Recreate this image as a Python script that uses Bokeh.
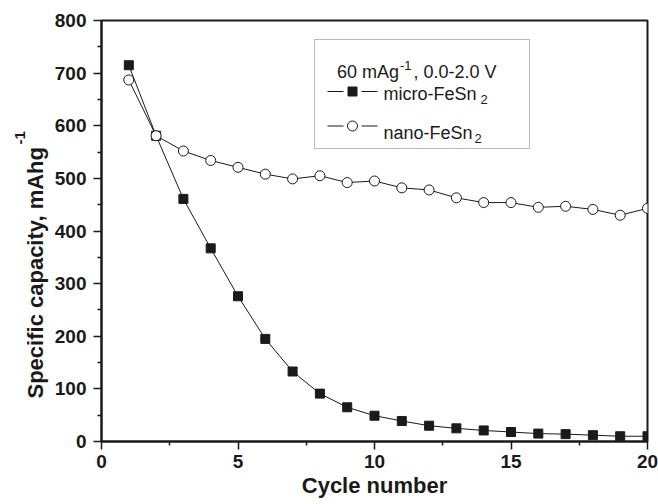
from bokeh.plotting import figure
from bokeh.models import Range1d, FixedTicker, Label, BoxAnnotation, Title
from bokeh.embed import file_html
from bokeh.resources import INLINE

# ---------------- data ----------------
cycles = list(range(1, 21))
micro = [715, 581, 461, 367, 276, 195, 133, 91, 65, 49, 39, 30, 25, 21, 18, 15, 14, 12, 10, 10]
nano = [687, 581, 552, 534, 521, 508, 499, 505, 492, 495, 482, 478, 463, 454, 454, 445, 447, 441, 430, 443]
x_ticks = [0, 5, 10, 15, 20]
y_ticks = [0, 100, 200, 300, 400, 500, 600, 700, 800]
x_label = "Cycle number"
y_label = "Specific capacity, mAhg"
y_label_sup = "-1"
legend_title = ["60 mAg", "-1", ", 0.0-2.0 V"]
series_names = ["micro-FeSn", "nano-FeSn"]
series_sub = "2"

# ---------------- layout ----------------
W, H = 658, 504
FL, FR, FT, FB = 101, 11, 20, 63
FW, FH = W - FL - FR, H - FT - FB
X0, X1, Y0, Y1 = 0, 20, 0, 800
INK = "#1a1a1a"
FONT = "Liberation Sans"


def sx2d(sx):
    return X0 + (sx - FL) * (X1 - X0) / FW


def sy2d(sy):
    return Y0 + (FT + FH - sy) * (Y1 - Y0) / FH


def mids(t):
    return [(a + b) / 2 for a, b in zip(t[:-1], t[1:])]


p = figure(width=W, height=H, x_range=Range1d(X0, X1), y_range=Range1d(Y0, Y1),
           output_backend="svg", toolbar_location=None,
           min_border_left=FL, min_border_right=FR, min_border_top=FT, min_border_bottom=FB,
           background_fill_color="white", border_fill_color="white")
p.grid.visible = False
p.outline_line_color = INK
p.outline_line_width = 2

p.xaxis.ticker = FixedTicker(ticks=x_ticks, minor_ticks=mids(x_ticks))
p.yaxis.ticker = FixedTicker(ticks=y_ticks, minor_ticks=mids(y_ticks))

for ax in (p.xaxis[0], p.yaxis[0]):
    ax.axis_line_width = 2
    ax.axis_line_color = INK
    ax.major_tick_line_color = INK
    ax.minor_tick_line_color = INK
    ax.major_tick_line_width = 1.5
    ax.minor_tick_line_width = 1.5
    ax.major_tick_out = 8
    ax.major_tick_in = 0
    ax.minor_tick_out = 4
    ax.minor_tick_in = 0
    ax.major_label_text_font = FONT
    ax.major_label_text_font_style = "bold"
    ax.major_label_text_font_size = "19px"
    ax.major_label_text_color = INK
p.xaxis[0].major_label_standoff = 5
p.yaxis[0].major_label_standoff = 7

# ---------------- series ----------------
p.line(cycles, micro, line_color=INK, line_width=1)
p.scatter(cycles, micro, marker="square", size=9, fill_color=INK, line_color=INK)
p.line(cycles, nano, line_color=INK, line_width=1)
p.scatter(cycles, nano, marker="circle", size=10, fill_color="white", line_color=INK, line_width=1)

# ---------------- legend ----------------
p.add_layout(BoxAnnotation(left=sx2d(314), right=sx2d(529), top=sy2d(39), bottom=sy2d(148),
                           fill_alpha=0, line_color=INK, line_width=1))


def lab(text, sx, sy, size, bold=False, align="left"):
    p.add_layout(Label(x=sx2d(sx), y=sy2d(sy), text=text, text_font=FONT,
                       text_font_size=size, text_font_style="bold" if bold else "normal",
                       text_color=INK, text_align=align, text_baseline="alphabetic"))


lab(legend_title[0], 336.5, 71, "18px")
lab(legend_title[1], 399.5, 65, "13px")
lab(legend_title[2], 413, 71, "18px")

for i, (name, mk, sz, fill) in enumerate([(series_names[0], "square", 9, INK),
                                           (series_names[1], "circle", 10, "white")]):
    sy_line = [91, 125.5][i]
    p.segment(x0=[sx2d(327), sx2d(361)], y0=[sy2d(sy_line)] * 2,
              x1=[sx2d(343), sx2d(377)], y1=[sy2d(sy_line)] * 2, line_color=INK, line_width=1)
    p.scatter([sx2d(352)], [sy2d(sy_line)], marker=mk, size=sz, fill_color=fill, line_color=INK)
    base = [93.5, 132.7][i]
    lab(name, 383, base, "18px")
    lab(series_sub, [480, 474][i], base + 5.5, "13px")

# ---------------- axis titles ----------------
t_x = Title(text=x_label, align="center", offset=-2, standoff=1,
            text_font=FONT, text_font_size="22px", text_font_style="bold", text_color=INK)
p.add_layout(t_x, "below")

t_main = Title(text=y_label, align="left", offset=43, standoff=8,
               text_font=FONT, text_font_size="22px", text_font_style="bold", text_color=INK)
t_sup = Title(text=y_label_sup, align="left", offset=297, standoff=-16,
              text_font=FONT, text_font_size="15px", text_font_style="bold", text_color=INK)
p.add_layout(t_main, "left")
p.add_layout(t_sup, "left")

open("out.html", "w").write(file_html(p, INLINE))
